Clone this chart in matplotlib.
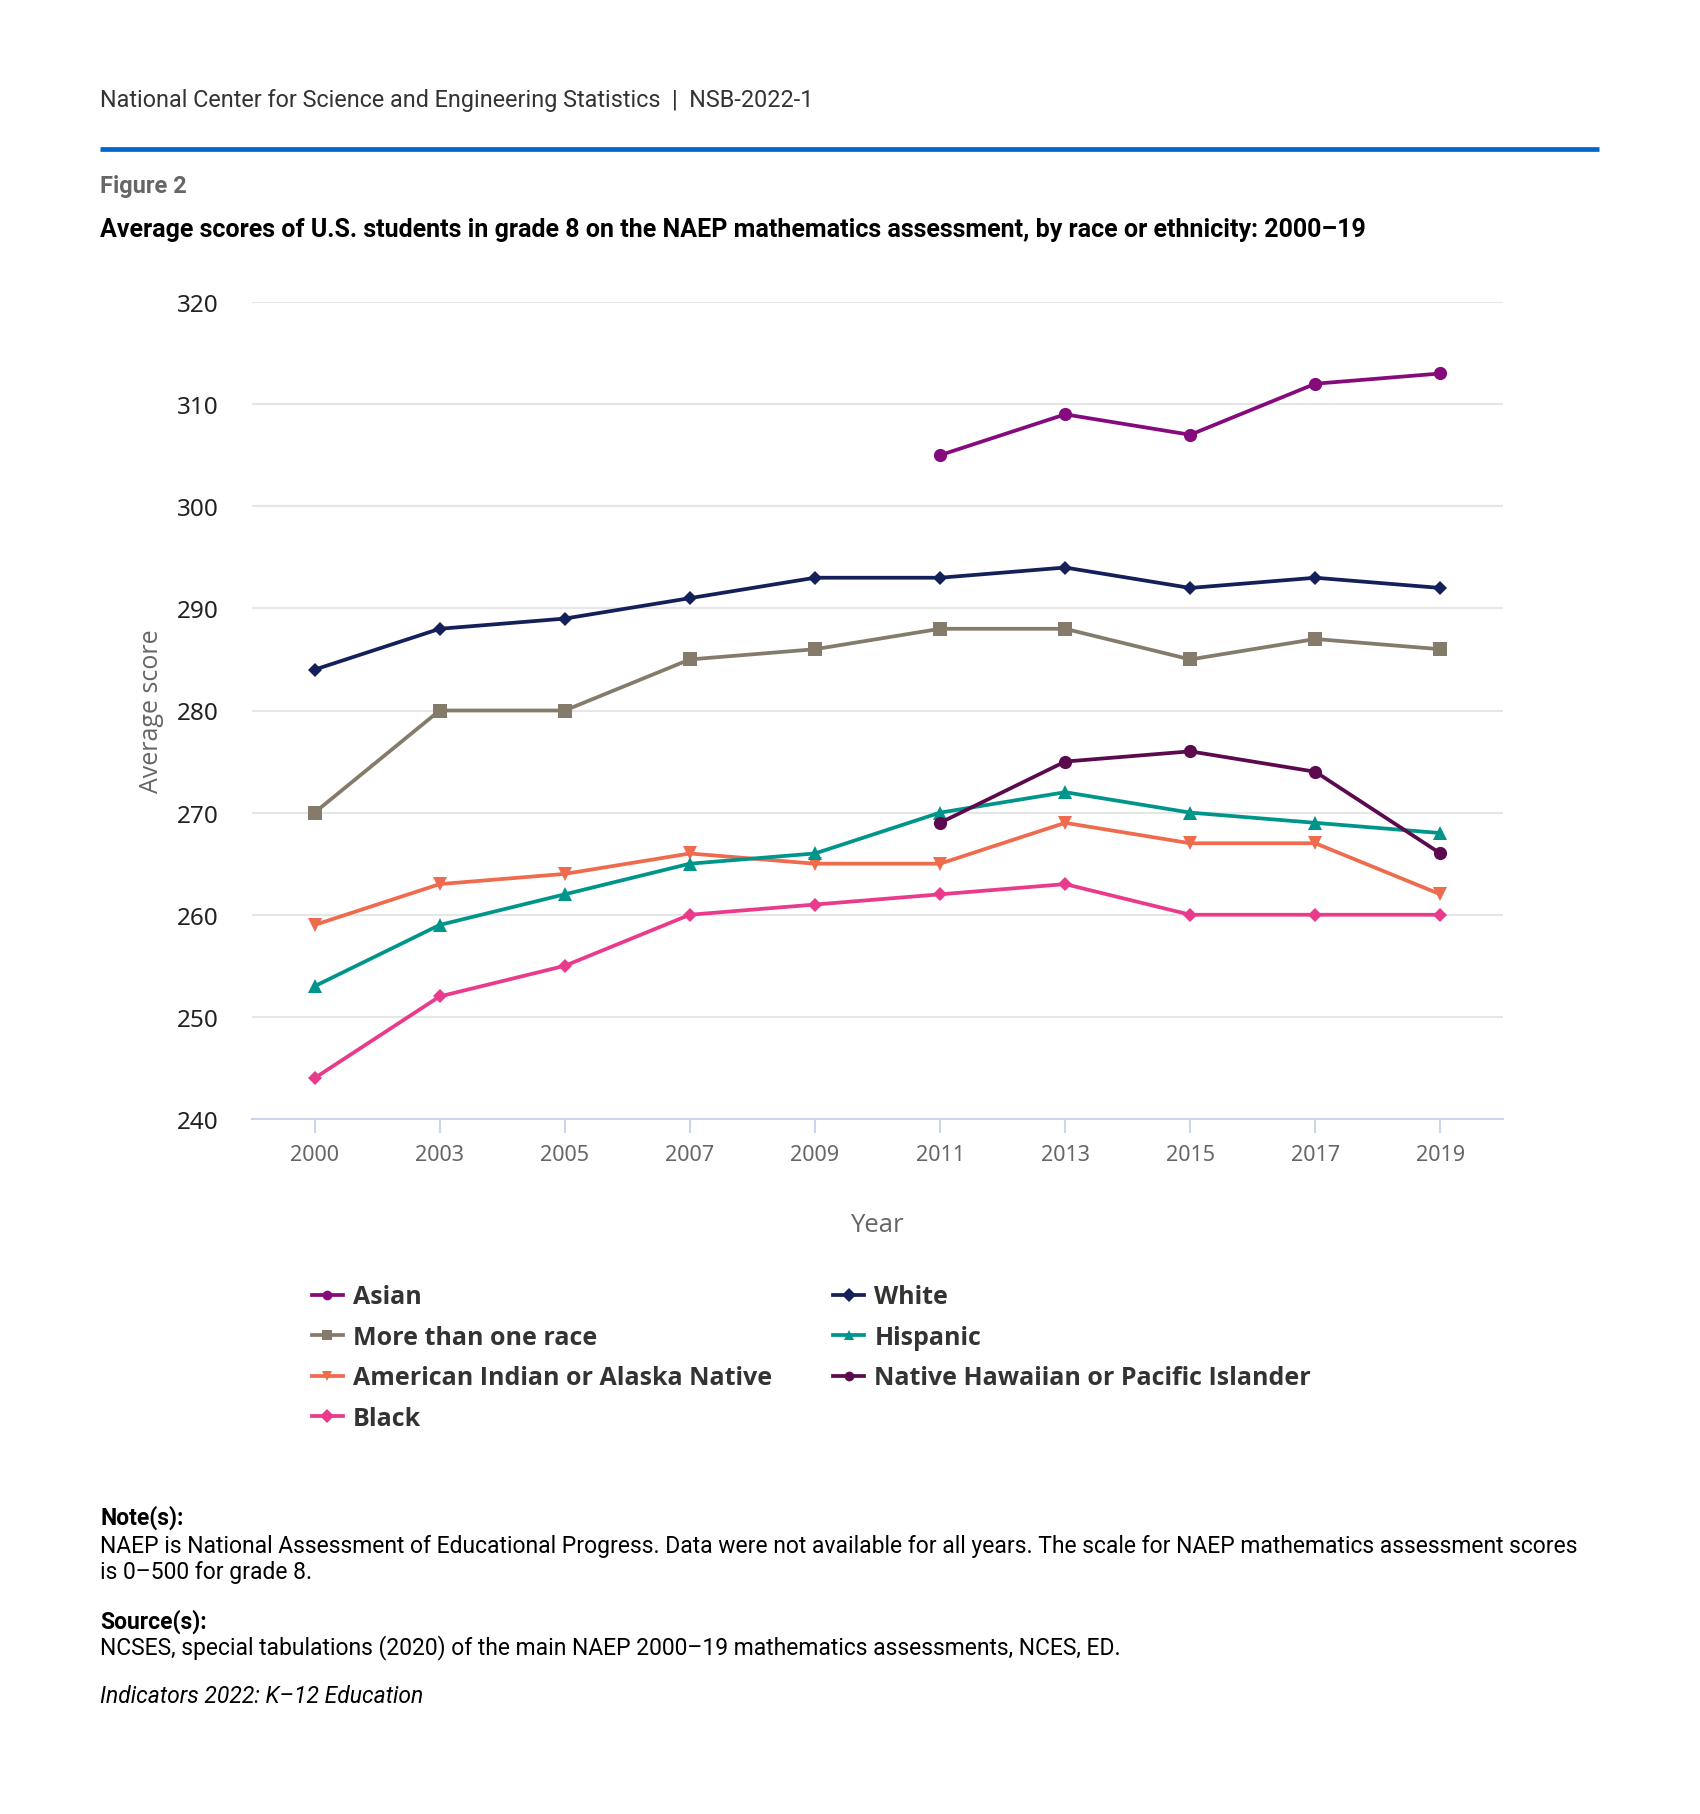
import matplotlib
matplotlib.use("Agg")
import matplotlib.pyplot as plt
import numpy as np
from matplotlib.lines import Line2D

years = ["2000", "2003", "2005", "2007", "2009", "2011", "2013", "2015", "2017", "2019"]
asian = [None, None, None, None, None, 305, 309, 307, 312, 313]
white = [284, 288, 289, 291, 293, 293, 294, 292, 293, 292]
multi = [270, 280, 280, 285, 286, 288, 288, 285, 287, 286]
hispanic = [253, 259, 262, 265, 266, 270, 272, 270, 269, 268]
aian = [259, 263, 264, 266, 265, 265, 269, 267, 267, 262]
nhpi = [None, None, None, None, None, 269, 275, 276, 274, 266]
black = [244, 252, 255, 260, 261, 262, 263, 260, 260, 260]

series = [
    ("Asian", asian, "#850A7C", "o"),
    ("More than one race", multi, "#857B6A", "s"),
    ("American Indian or Alaska Native", aian, "#EE6B4D", "v"),
    ("Black", black, "#EA3A8C", "D"),
    ("White", white, "#13205A", "D"),
    ("Hispanic", hispanic, "#00958A", "^"),
    ("Native Hawaiian or Pacific Islander", nhpi, "#5C0A4E", "o"),
]
msizes = {"o": 9.5, "s": 9.5, "v": 10.5, "^": 10.5, "D": 7.5}

W, H = 1700, 1815
fig = plt.figure(figsize=(W / 100, H / 100), dpi=100)

def fy(y):
    return 1 - y / H

def fx(x):
    return x / W

# Header
fig.text(fx(100), fy(101), "National Center for Science and Engineering Statistics  |  NSB-2022-1",
         family="Roboto", fontsize=16.8, color="#333333", va="center", ha="left")
fig.add_artist(Line2D([fx(100), fx(1599)], [fy(150), fy(150)], color="#0066CC", lw=3.4,
                      solid_capstyle="butt"))
fig.text(fx(100), fy(186), "Figure 2", family="Roboto", fontsize=17, weight="bold",
         color="#666666", va="center", ha="left")
fig.text(fx(100), fy(230),
         "Average scores of U.S. students in grade 8 on the NAEP mathematics assessment, by race or ethnicity: 2000\u201319",
         family="Roboto", fontsize=18, weight="bold", color="#000000", va="center", ha="left")

ax = fig.add_axes([fx(252), fy(1120), fx(1503) - fx(252), fy(303) - fy(1120)])
x = np.arange(len(years))
handles = []
for name, vals, col, mk in series:
    v = np.array([np.nan if a is None else a for a in vals], dtype=float)
    (h,) = ax.plot(x, v, color=col, lw=2.7, marker=mk, markersize=msizes[mk],
                   markeredgewidth=0, label=name, zorder=3)
    handles.append(h)

ax.set_xlim(-0.5, len(years) - 0.5)
ax.set_ylim(240, 320)
ax.set_yticks(np.arange(240, 321, 10))
ax.set_xticks(x)
ax.set_xticklabels(years)
ax.grid(axis="y", color="#E6E6E6", lw=1.5, zorder=0)
ax.set_axisbelow(True)
for s in ["top", "right", "left"]:
    ax.spines[s].set_visible(False)
ax.spines["bottom"].set_color("#CCD6EB")
ax.spines["bottom"].set_linewidth(1.5)
ax.tick_params(axis="y", length=0, pad=24, labelsize=17.5, labelcolor="#222222")
ax.tick_params(axis="x", length=10, width=1.5, color="#CCD6EB", pad=8, labelsize=15.5, labelcolor="#666666")
for lab in ax.get_yticklabels() + ax.get_xticklabels():
    lab.set_family("Noto Sans")

fig.text(fx(151), fy(711), "Average score", rotation=90, family="Open Sans", fontsize=18,
         color="#666666", va="center", ha="center")
fig.text(fx(877), fy(1225), "Year", family="Open Sans", fontsize=18.5,
         color="#666666", va="center", ha="center")

leg = fig.legend(handles=handles, loc="upper left", bbox_to_anchor=(fx(289), fy(1263)),
                 ncol=2, frameon=False, handlelength=1.25, handletextpad=0.4,
                 columnspacing=2.45, labelspacing=0.62,
                 prop={"family": "Open Sans", "weight": "bold", "size": 18})
for t in leg.get_texts():
    t.set_color("#333333")
for lh in leg.legend_handles:
    lh.set_markersize(7)

fs = 16.5
fig.text(fx(100), fy(1518), "Note(s):", family="Roboto", weight="bold", fontsize=fs, va="center")
fig.text(fx(100), fy(1546),
         "NAEP is National Assessment of Educational Progress. Data were not available for all years. The scale for NAEP mathematics assessment scores",
         family="Roboto", fontsize=fs, va="center")
fig.text(fx(100), fy(1573), "is 0\u2013500 for grade 8.", family="Roboto", fontsize=fs, va="center")
fig.text(fx(100), fy(1622), "Source(s):", family="Roboto", weight="bold", fontsize=fs, va="center")
fig.text(fx(100), fy(1648),
         "NCSES, special tabulations (2020) of the main NAEP 2000\u201319 mathematics assessments, NCES, ED.",
         family="Roboto", fontsize=fs, va="center")
fig.text(fx(100), fy(1697), "Indicators 2022: K\u201312 Education", family="Roboto", style="italic",
         fontsize=fs, va="center")

fig.savefig("out.png", dpi=100, facecolor="white")
